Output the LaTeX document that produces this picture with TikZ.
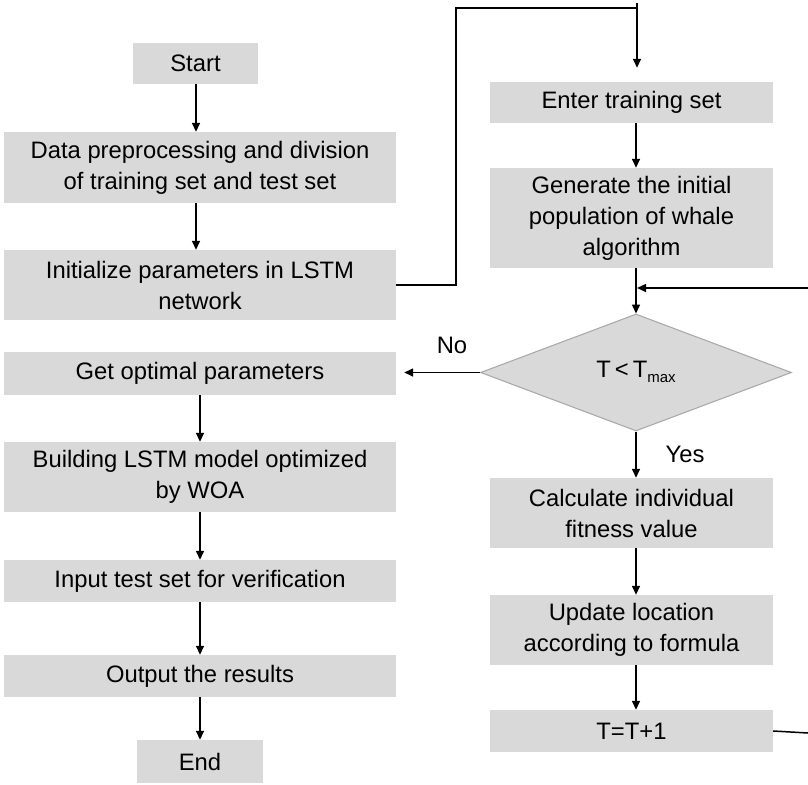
\documentclass[tikz,border=0pt]{standalone}
\usepackage{fontspec}
\setmainfont{Liberation Sans}
\usetikzlibrary{arrows.meta,shapes.geometric}
\definecolor{boxgray}{HTML}{D9D9D9}
\definecolor{edgegray}{HTML}{A6A6A6}
\begin{document}
\begin{tikzpicture}[x=1pt,y=-1pt,
  font=\fontsize{23.8}{31}\selectfont,
  box/.style={fill=boxgray,inner sep=0pt,align=center,minimum width=#1},
  box/.default=392pt,
  rbox/.style={fill=boxgray,inner sep=0pt,align=center,minimum width=283pt},
  conn/.style={line width=1.5pt,-{Triangle[length=9pt,width=8pt]}},
  plain/.style={line width=1.5pt}]
\useasboundingbox (0,0) rectangle (808,784);
% left column
\node[box=125pt,minimum height=41pt] (start) at (195.5,63.5) {Start};
\node[box,minimum height=71pt] (data) at (200,167.5) {Data preprocessing and division\\of training set and test set};
\node[box,minimum height=70pt] (init) at (200,285) {Initialize parameters in LSTM\\network};
\node[box,minimum height=43pt] (getopt) at (200,373.5) {Get optimal parameters};
\node[box,minimum height=70pt] (build) at (200,477) {Building LSTM model optimized\\by WOA};
\node[box,minimum height=42pt] (input) at (200,581) {Input test set for verification};
\node[box,minimum height=42pt] (output) at (200,676) {Output the results};
\node[box=126pt,minimum height=43pt] (end) at (200,761.5) {End};
% right column
\node[rbox,minimum height=41pt] (enter) at (631.5,102.5) {Enter training set};
\node[rbox,minimum height=100pt] (gen) at (631.5,218) {Generate the initial\\population of whale\\algorithm};
\node[diamond,fill=boxgray,draw=edgegray,line width=1pt,minimum width=311pt,minimum height=117pt,inner sep=0pt] (dec) at (636,372.5) {};
\node at (636,372) {T\,<\,T\raisebox{-0.35ex}{\fontsize{15}{15}\selectfont max}};
\node[rbox,minimum height=70pt] (calc) at (631.5,513) {Calculate individual\\fitness value};
\node[rbox,minimum height=70pt] (upd) at (631.5,630) {Update location\\according to formula};
\node[rbox,minimum height=42pt] (inc) at (631.5,731) {T=T+1};
% labels
\node (no) at (452,345) {No};
\node (yes) at (685,454) {Yes};
% left arrows
\draw[conn] (start.south -| 196,0) -- (196,0 |- data.north);
\draw[conn] (data.south -| 196,0) -- (196,0 |- init.north);
\draw[conn] (getopt.south) -- (build.north);
\draw[conn] (build.south) -- (input.north);
\draw[conn] (input.south) -- (output.north);
\draw[conn] (output.south) -- (end.north);
% top connector
\coordinate (t1) at (456,285);
\coordinate (t2) at (456,8);
\coordinate (t3) at (637,8);
\coordinate (t0) at (637,3);
\draw[plain] (init.east) -- (t1) -- (t2) -- (t3);
\draw[conn,shorten >=14pt] (t0) -- (637,0 |- enter.north);
% right arrows
\draw[conn] (enter.south -| 636,0) -- (636,0 |- gen.north);
\draw[conn] (gen.south -| 636,0) -- (dec.north);
\draw[conn] (dec.south) -- (636,0 |- calc.north);
\draw[conn] (calc.south -| 636,0) -- (636,0 |- upd.north);
\draw[conn] (upd.south -| 636,0) -- (636,0 |- inc.north);
\draw[conn,shorten >=8pt] (dec.west) -- (getopt.east |- dec.west);
% feedback loop (runs off the right edge)
\coordinate (fb1) at (808,733);
\coordinate (fb2) at (808,288);
\coordinate (fbin) at (637,288);
\draw[plain] (inc.east) -- (fb1);
\draw[conn] (fb2) -- (fbin);
\end{tikzpicture}
\end{document}
